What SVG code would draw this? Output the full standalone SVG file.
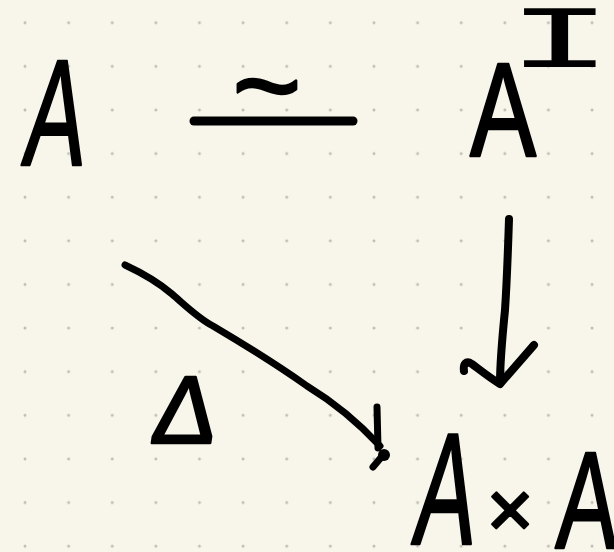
<svg xmlns="http://www.w3.org/2000/svg" width="614" height="552" viewBox="0 0 614 552">
  <defs>
    <pattern id="dots" x="3.19" y="0.89" width="43.62" height="43.62" patternUnits="userSpaceOnUse">
      <circle cx="21.81" cy="21.81" r="1.5" fill="#bfbcb2"/>
    </pattern>
    <style>
      .ink { fill: #000; stroke: #000; stroke-width: 2.5; stroke-linejoin: round; font-family: "Liberation Sans", Arial, sans-serif; }
      .mono { fill: #000; font-family: "Liberation Mono", "Courier New", monospace; }
      .line { fill: none; stroke: #000; stroke-linecap: round; stroke-linejoin: round; }
    </style>
  </defs>
  <rect width="614" height="552" fill="#f8f6ea"/>
  <rect width="614" height="552" fill="url(#dots)"/>

  <g id="node-A">
    <text class="ink" font-size="151" transform="translate(21,165) skewX(-6) scale(0.6,1)">A</text>
  </g>

  <g id="node-AI">
    <text class="ink" font-size="134" transform="translate(470,156) scale(0.74,1)">A</text>
    <text class="mono" font-size="89" text-anchor="middle" transform="translate(560,67) scale(2.0,1)">I</text>
  </g>

  <g id="node-AxA">
    <text class="ink" font-size="159" transform="translate(411,544) skewX(-6) scale(0.57,1)">A</text>
    <text class="ink" font-size="80" text-anchor="middle" x="510" y="537">×</text>
    <text class="ink" font-size="138" transform="translate(555,548) skewX(-3) scale(0.66,1)">A</text>
  </g>

  <g id="connectors">
    <g id="iso-A-AI">
      <path class="line" stroke-width="9" d="M194,121 L353,121"/>
      <text class="ink" font-size="118" stroke-width="4" text-anchor="middle" x="267" y="126">~</text>
    </g>
    <g id="arrow-AI-AxA">
      <path class="line" stroke-width="8" d="M509,219 C508,250 507,280 505,310 C502,340 500,360 500,383"/>
      <path class="line" stroke-width="8" d="M464,371 C463,364 466,360 472,364 C480,370 490,378 500,384 L534,345"/>
    </g>
    <g id="arrow-A-AxA">
      <path class="line" stroke-width="7" d="M125,265 C140,272 158,282 172,294 C186,306 198,318 213,326 C240,342 270,360 307,386 C330,400 356,420 380,446"/>
      <path class="line" stroke-width="7" d="M377,407 L378,448 M384,454 L373,467"/>
      <circle cx="384" cy="455" r="6" fill="#000"/>
      <text class="ink" font-size="96" stroke-width="2" transform="translate(149,443) skewX(-8)">Δ</text>
    </g>
  </g>
</svg>
